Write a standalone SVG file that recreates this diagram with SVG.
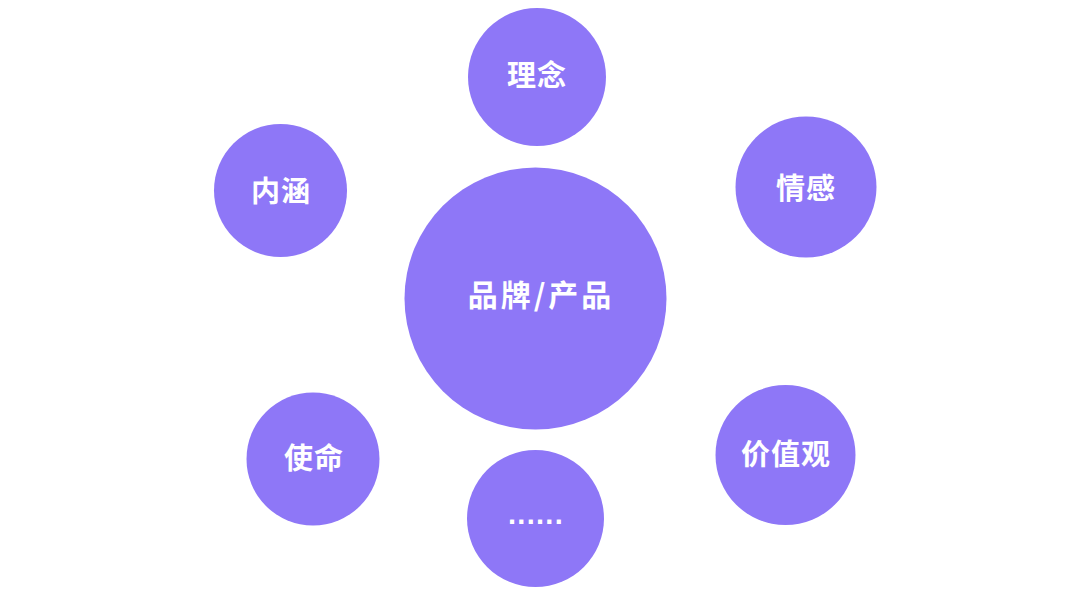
<svg xmlns="http://www.w3.org/2000/svg" width="1080" height="608" viewBox="0 0 1080 608">
<style>
.c{fill:#8E77F7}
.t{fill:#ffffff;font-family:"Noto Sans CJK SC","Noto Sans",sans-serif;font-weight:bold;font-size:29px;text-anchor:middle;letter-spacing:1px}
.m{font-size:30px;letter-spacing:3px}
.d{font-family:"Liberation Sans",Arial,sans-serif;letter-spacing:1.3px}
</style>
<rect width="1080" height="608" fill="#ffffff"/>
<g id="connectors"></g>
<g id="center"><circle class="c" cx="535.5" cy="298.5" r="131"/><text class="t m" x="541" y="306">品牌/产品</text></g>
<g id="linian"><circle class="c" cx="537" cy="77" r="69"/><text class="t" x="537" y="86">理念</text></g>
<g id="neihan"><circle class="c" cx="280.5" cy="190.5" r="66.5"/><text class="t" x="281" y="202">内涵</text></g>
<g id="qinggan"><circle class="c" cx="806" cy="187" r="70.5"/><text class="t" x="806" y="199">情感</text></g>
<g id="shiming"><circle class="c" cx="313" cy="459" r="66.5"/><text class="t" x="314" y="469">使命</text></g>
<g id="jiazhiguan"><circle class="c" cx="785.5" cy="455" r="70"/><text class="t" x="786" y="465">价值观</text></g>
<g id="more"><circle class="c" cx="535.5" cy="518.5" r="68.5"/><text class="t d" x="536" y="524">......</text></g>
</svg>
